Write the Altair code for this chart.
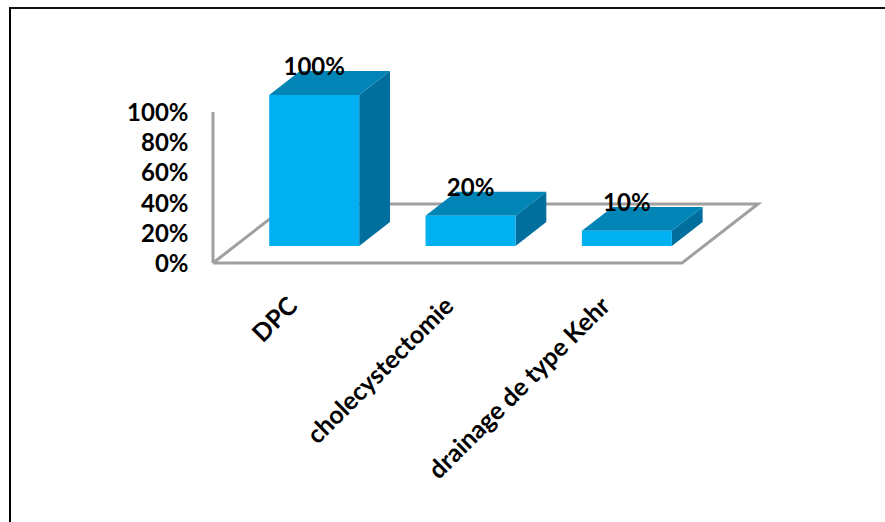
import altair as alt
import pandas as pd

# Values of the chart
categories = ["DPC", "cholecystectomie", "drainage de type Kehr"]
values = [100, 20, 10]
y_ticks = [0, 20, 40, 60, 80, 100]

# Canvas size and the mapping from data units to the canvas
W, H = 885, 522
SLOT_PX = 156.33      # width of one category slot
PCT_PX = 1.51         # height of one percentage point
ORIGIN_X, ORIGIN_Y = 213, 263

# Oblique projection of the floor depth, in data units
DEPTH_X = 76 / SLOT_PX
DEPTH_Y = 59 / PCT_PX
BAR_WIDTH = 90 / SLOT_PX
BAR_SHIFT = 1 / SLOT_PX
BAR_D0, BAR_D1 = 0.29, 0.695   # bars occupy this part of the floor depth

x_scale = alt.Scale(domain=[-ORIGIN_X / SLOT_PX, (W - ORIGIN_X) / SLOT_PX], nice=False, zero=False)
y_scale = alt.Scale(domain=[(ORIGIN_Y - H) / PCT_PX, ORIGIN_Y / PCT_PX], nice=False, zero=False)

X = lambda f: alt.X(f, type="quantitative", scale=x_scale, axis=None)
Y = lambda f: alt.Y(f, type="quantitative", scale=y_scale, axis=None)

# Floor outline and back wall edge
n = len(categories)
outline = pd.DataFrame([
    {"path": "wall", "i": 0, "x": 0, "y": 100},
    {"path": "wall", "i": 1, "x": 0, "y": 0},
    {"path": "floor", "i": 0, "x": 0, "y": 0},
    {"path": "floor", "i": 1, "x": n, "y": 0},
    {"path": "floor", "i": 2, "x": n + DEPTH_X, "y": DEPTH_Y},
    {"path": "floor", "i": 3, "x": DEPTH_X, "y": DEPTH_Y},
    {"path": "floor", "i": 4, "x": 0, "y": 0},
])
lines = alt.Chart(outline).mark_line(color="#A0A0A0", strokeWidth=3, strokeJoin="miter").encode(
    x=X("x"), y=Y("y"), detail="path:N", order="i:Q"
)

front_rows, side_rows, top_rows, label_rows = [], [], [], []
for i, (cat, val) in enumerate(zip(categories, values)):
    left = i + 0.5 - BAR_WIDTH / 2 + BAR_D0 * DEPTH_X + BAR_SHIFT
    right = left + BAR_WIDTH
    base = BAR_D0 * DEPTH_Y
    top = base + val
    span = BAR_D1 - BAR_D0
    front_rows.append({"cat": cat, "x": left, "x2": right, "y": base, "y2": top})
    for t in (0, 1):
        dx, dy = t * span * DEPTH_X, t * span * DEPTH_Y
        side_rows.append({"cat": cat, "x": right + dx, "y": base + dy, "y2": top + dy})
        top_rows.append({"cat": cat, "y": top + dy, "x": left + dx, "x2": right + dx})
    label_rows.append({"cat": cat, "x": (left + right) / 2, "y": top, "label": f"{val}%",
                       "slot": i + 0.5, "floor": 0})

fronts = alt.Chart(pd.DataFrame(front_rows)).mark_rect(color="#00B0F0").encode(
    x=X("x"), x2="x2:Q", y=Y("y"), y2="y2:Q"
)
sides = alt.Chart(pd.DataFrame(side_rows)).mark_area(
    color="#006F9E", orient="vertical", interpolate="linear"
).encode(
    x=X("x"), y=Y("y"), y2="y2:Q", detail="cat:N"
)
tops = alt.Chart(pd.DataFrame(top_rows)).mark_area(
    color="#0085B6", orient="horizontal", interpolate="linear"
).encode(
    y=Y("y"), x=X("x"), x2="x2:Q", detail="cat:N"
)

labels_df = pd.DataFrame(label_rows)
value_labels = alt.Chart(labels_df).mark_text(
    font="Lato", fontWeight="bold", fontSize=24, color="#000000", dy=-27
).encode(x=X("x"), y=Y("y"), text="label:N")

category_labels = alt.Chart(labels_df).mark_text(
    font="Lato", fontWeight="bold", fontSize=25, color="#000000",
    angle=315, align="right", baseline="middle", dx=-26, dy=29
).encode(x=X("slot"), y=Y("floor"), text="cat:N")

# Percentage axis, pulled inside the canvas next to the wall
axis_df = pd.DataFrame({"v": y_ticks})
y_axis = alt.Chart(axis_df).mark_point(opacity=0).encode(
    y=alt.Y("v:Q", scale=y_scale, title=None, axis=alt.Axis(
        values=y_ticks, labelExpr="datum.value + '%'", domain=False, ticks=False, grid=False,
        labelFont="Lato", labelFontWeight="bold", labelFontSize=24, labelColor="#000000",
        labelPadding=8, labelOffset=1.5, offset=-196
    )),
    x=alt.value(0),
)

# Page frame: top and left edges only
frame_top = alt.Chart(pd.DataFrame({"a": [0]})).mark_rule(color="#111111", strokeWidth=2).encode(
    x=alt.value(9), x2=alt.value(W), y=alt.value(8)
)
frame_left = alt.Chart(pd.DataFrame({"a": [0]})).mark_rule(color="#000000", strokeWidth=2).encode(
    x=alt.value(10), y=alt.value(8), y2=alt.value(H)
)

chart = alt.layer(
    y_axis, lines, sides, tops, fronts, value_labels, category_labels, frame_top, frame_left
).resolve_axis(y="independent").properties(
    width=W, height=H, padding=0, background="#FFFFFF",
    autosize=alt.AutoSizeParams(type="none")
).configure_view(stroke=None)

chart.save("out.html", embed_options={"renderer": "svg", "actions": False})
